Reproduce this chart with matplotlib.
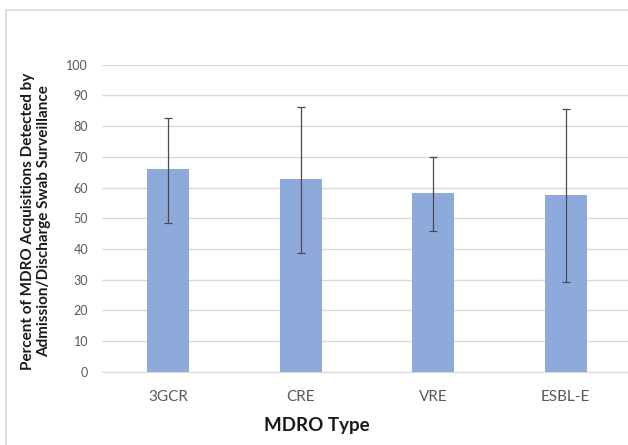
import matplotlib.pyplot as plt
from matplotlib.patches import Rectangle

# Data
mdro_types = ['3GCR', 'CRE', 'VRE', 'ESBL-E']
percent_detected = [65.9, 62.7, 58.1, 57.5]
ci_lower = [48.5, 38.6, 45.9, 29.3]
ci_upper = [82.7, 86.3, 69.8, 85.5]
y_ticks = [0, 10, 20, 30, 40, 50, 60, 70, 80, 90, 100]

err_low = [p - lo for p, lo in zip(percent_detected, ci_lower)]
err_high = [hi - p for p, hi in zip(percent_detected, ci_upper)]

plt.rcParams['font.family'] = ['Lato', 'DejaVu Sans']

fig = plt.figure(figsize=(6.28, 4.45), dpi=100)
fig.patch.set_facecolor('white')

# light outer frame of the chart area (cropped on right and bottom)
fig.patches.append(Rectangle((6 / 628, -0.2), 1.2, 0.2 + 1 - 10 / 445,
                             transform=fig.transFigure, fill=False,
                             edgecolor='#d9d9d9', linewidth=1.2))

ax = fig.add_axes([102 / 628, 73.3 / 445, 530 / 628, 307 / 445])
x = list(range(len(mdro_types)))
ax.bar(x, percent_detected, width=0.32, color='#8eaadb', zorder=2)
ax.errorbar(x, percent_detected, yerr=[err_low, err_high], fmt='none',
            ecolor='#4a4a4a', elinewidth=0.9, capsize=3, capthick=0.9,
            zorder=3)

ax.set_xlim(-0.5, 3.5)
ax.set_ylim(0, 100)
ax.set_yticks(y_ticks)
ax.set_xticks(x)
ax.set_xticklabels(mdro_types)
ax.yaxis.grid(True, color='#d9d9d9', linewidth=1)
ax.set_axisbelow(True)
for s in ['top', 'right', 'left']:
    ax.spines[s].set_visible(False)
ax.spines['bottom'].set_color('#d9d9d9')
ax.tick_params(axis='both', length=0, colors='#595959')
ax.tick_params(axis='y', labelsize=9, pad=10)
ax.tick_params(axis='x', labelsize=11, pad=13)

fig.text(36 / 628, 224 / 445,
         'Percent of MDRO Acquisitions Detected by\nAdmission/Discharge Swab Surveillance',
         rotation=90, ha='center', va='center', fontsize=11,
         fontweight='bold', color='#1a1a1a', linespacing=1.15)
fig.text(317 / 628, 20 / 445, 'MDRO Type', ha='center', va='center',
         fontsize=13.5, fontweight='bold', color='#1a1a1a')

plt.savefig('out.png', dpi=100)
plt.close()
